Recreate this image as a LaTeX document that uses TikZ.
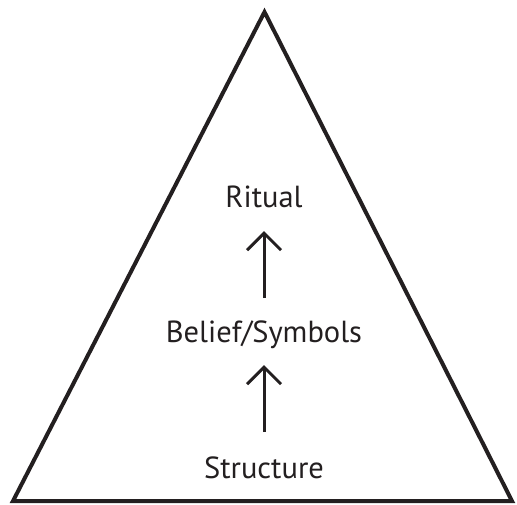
\documentclass[tikz,border=0pt]{standalone}
\usepackage{fontspec}
\setmainfont{PT Sans}
\usetikzlibrary{arrows.meta}
\definecolor{ink}{HTML}{231F20}
\tikzset{
  lbl/.style={anchor=base, inner sep=0pt, text=ink, font=\fontsize{30.5}{30.5}\selectfont},
  uparrow/.style={draw=ink, line width=3pt, -{Straight Barb[length=17pt, width=34pt, line width=3pt]}},
  tri/.style={draw=ink, line width=4pt, line join=miter}
}
\begin{document}
\begin{tikzpicture}[x=1pt, y=-1pt]
  \useasboundingbox (0,0) rectangle (517,504);
  \coordinate (apex) at (264.5,12);
  \coordinate (bl) at (13,501);
  \coordinate (br) at (512,501);
  \draw[tri] (apex) -- (bl) -- (br) -- cycle;
  \node[lbl] (ritual) at (264,207) {Ritual};
  \node[lbl] (belief) at (264,342) {Belief/Symbols};
  \node[lbl] (structure) at (264,478) {Structure};
  \coordinate (a1s) at (264,298);
  \coordinate (a1e) at (264,231);
  \coordinate (a2s) at (264,432);
  \coordinate (a2e) at (264,365);
  \draw[uparrow] (a1s) -- (a1e);
  \draw[uparrow] (a2s) -- (a2e);
\end{tikzpicture}
\end{document}
